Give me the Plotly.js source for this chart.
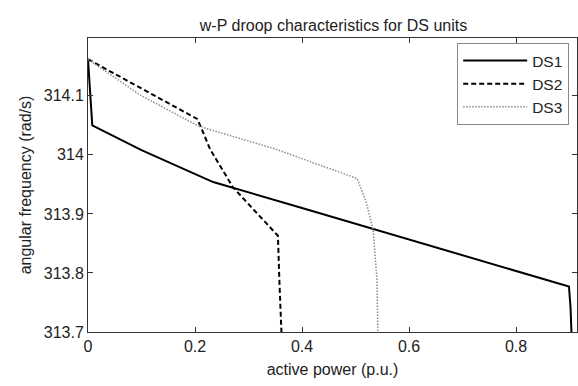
<!DOCTYPE html>
<html>
<head>
<meta charset="utf-8">
<script src="https://cdn.plot.ly/plotly-3.0.1.min.js"></script>
<style>html,body{margin:0;padding:0;background:#fff;}#chart{width:578px;height:386px;}</style>
</head>
<body>
<div id="chart"></div>
<script>
// Active power (p.u.) and angular frequency (rad/s)
var ds1P = [0, 0.008, 0.1, 0.18, 0.234, 0.4, 0.6, 0.8, 0.899, 0.902, 0.904];
var ds1W = [314.162, 314.05, 314.008, 313.975, 313.954, 313.91, 313.857, 313.804, 313.777, 313.74, 313.69];
var ds2P = [0, 0.1, 0.204, 0.212, 0.228, 0.271, 0.355, 0.358, 0.362];
var ds2W = [314.162, 314.113, 314.061, 314.045, 314.01, 313.945, 313.863, 313.78, 313.69];
var ds3P = [0, 0.1, 0.2, 0.22, 0.35, 0.503, 0.52, 0.533, 0.54, 0.542];
var ds3W = [314.162, 314.1, 314.052, 314.045, 314.01, 313.96, 313.92, 313.873, 313.79, 313.69];
var seriesNames = ['DS1', 'DS2', 'DS3'];
var xTickVals = [0, 0.2, 0.4, 0.6, 0.8];
var xTickText = ['0', '0.2', '0.4', '0.6', '0.8'];
var yTickVals = [313.7, 313.8, 313.9, 314.0, 314.1];
var yTickText = ['313.7', '313.8', '313.9', '314', '314.1'];

var FONT = 'Liberation Sans, Arial, Helvetica, sans-serif';
var traces = [
  {x: ds1P, y: ds1W, name: seriesNames[0], mode: 'lines', line: {color: '#000', width: 2, dash: 'solid'}},
  {x: ds2P, y: ds2W, name: seriesNames[1], mode: 'lines', line: {color: '#000', width: 2, dash: '5px,3px'}},
  {x: ds3P, y: ds3W, name: seriesNames[2], mode: 'lines', line: {color: '#8c8c8c', width: 1.5, dash: '1.5px,1.5px'}}
];
var axisCommon = {
  showgrid: false, zeroline: false, showline: true, linecolor: '#333', linewidth: 1,
  mirror: 'ticks', ticks: 'inside', ticklen: 5, tickcolor: '#333', tickwidth: 1,
  tickfont: {family: FONT, size: 16, color: '#222'}, tickmode: 'array', fixedrange: true
};
var layout = {
  width: 578, height: 386,
  margin: {l: 88, r: 1, t: 38, b: 54},
  paper_bgcolor: '#fff', plot_bgcolor: '#fff',
  font: {family: FONT, size: 16, color: '#222'},
  title: {text: 'w-P droop characteristics for DS units', x: 0.577, xanchor: 'center', y: 0.935, yanchor: 'middle', font: {family: FONT, size: 16, color: '#222'}},
  xaxis: Object.assign({}, axisCommon, {range: [0, 0.914], tickvals: xTickVals, ticktext: xTickText,
    title: {text: 'active power (p.u.)', font: {family: FONT, size: 16, color: '#222'}, standoff: 9}}),
  yaxis: Object.assign({}, axisCommon, {range: [313.7, 314.198], tickvals: yTickVals, ticktext: yTickText,
    title: {text: 'angular frequency (rad/s)', font: {family: FONT, size: 16, color: '#222'}, standoff: 8}}),
  showlegend: true,
  legend: {x: 0.984, xanchor: 'right', y: 0.983, yanchor: 'top', bgcolor: '#fff', bordercolor: '#888', borderwidth: 1,
    font: {family: FONT, size: 15.5, color: '#222'}, itemwidth: 64, tracegroupgap: 0, tracegroupgap: 0}
};
Plotly.newPlot('chart', traces, layout, {staticPlot: true, displayModeBar: false});
</script>
</body>
</html>
